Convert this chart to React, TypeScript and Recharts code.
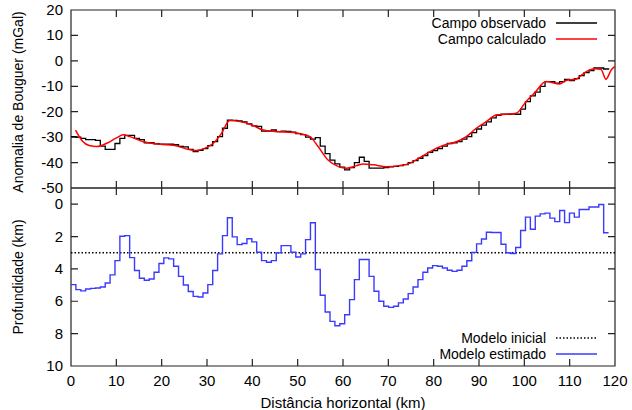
import React from 'react';
import { LineChart, Line, XAxis, YAxis, Legend } from 'recharts';

const FONT = '"Liberation Sans", Arial, Helvetica, sans-serif';
const AXIS = '#222222';
const AXIS_W = 1.2;
const TICK_PX = 7;
const PLOT_W = 544;
const PANEL_H = 178;

// ---- tick labels ----
const xTicks = [0, 10, 20, 30, 40, 50, 60, 70, 80, 90, 100, 110, 120];
const anomalyTicks = [-50, -40, -30, -20, -10, 0, 10, 20];
const depthTicks = [0, 2, 4, 6, 8, 10];

// ---- series names ----
const topNames = ['Campo observado', 'Campo calculado'];
const bottomNames = ['Modelo inicial', 'Modelo estimado'];

// ---- model cell left edges (km) ----
const cellDistance = [
  0, 1.08, 2.16, 3.23, 4.31, 5.39, 6.47, 7.55, 8.62, 9.7,
  10.78, 11.86, 12.94, 14.01, 15.09, 16.17, 17.25, 18.33, 19.4, 20.48,
  21.56, 22.64, 23.72, 24.79, 25.87, 26.95, 28.03, 29.11, 30.18, 31.26,
  32.34, 33.42, 34.5, 35.57, 36.65, 37.73, 38.81, 39.89, 40.96, 42.04,
  43.12, 44.2, 45.28, 46.35, 47.43, 48.51, 49.59, 50.67, 51.74, 52.82,
  53.9, 54.98, 56.06, 57.13, 58.21, 59.29, 60.37, 61.45, 62.52, 63.6,
  64.68, 65.76, 66.84, 67.91, 68.99, 70.07, 71.15, 72.23, 73.3, 74.38,
  75.46, 76.54, 77.62, 78.69, 79.77, 80.85, 81.93, 83.01, 84.08, 85.16,
  86.24, 87.32, 88.4, 89.47, 90.55, 91.63, 92.71, 93.79, 94.86, 95.94,
  97.02, 98.1, 99.18, 100.25, 101.33, 102.41, 103.49, 104.57, 105.64, 106.72,
  107.8, 108.88, 109.96, 111.03, 112.11, 113.19, 114.27, 115.35, 116.42, 117.5,
  118.58,
];

// ---- observed Bouguer anomaly (mGal) ----
const observedField = [
  -29.8, -30.0, -30.5, -31.0, -31.0, -31.3, -33.5, -34.8, -34.8, -32.5,
  -30.5, -29.3, -29.3, -30.5, -31.0, -32.2, -32.2, -32.6, -32.8, -32.8,
  -32.8, -33.0, -33.6, -33.8, -34.8, -35.7, -35.2, -34.5, -33.3, -31.8,
  -29.8, -26.5, -23.3, -23.4, -23.6, -24.0, -24.8, -25.6, -25.8, -27.6,
  -27.6, -27.2, -27.8, -27.6, -27.7, -28.0, -28.6, -29.0, -30.0, -30.8,
  -30.2, -33.5, -36.5, -39.0, -40.5, -41.8, -42.9, -42.0, -40.0, -37.9,
  -39.5, -42.2, -42.2, -42.2, -42.0, -41.7, -41.5, -41.2, -40.8, -40.0,
  -39.2, -38.3, -37.3, -36.0, -35.3, -34.5, -33.5, -32.5, -32.2, -31.8,
  -30.8, -29.8, -28.2, -26.8, -25.3, -24.0, -22.4, -21.4, -21.0, -21.0,
  -20.9, -21.0, -19.0, -16.0, -13.8, -12.3, -10.0, -8.2, -8.2, -8.8,
  -8.2, -7.3, -7.8, -7.0, -5.8, -4.6, -3.8, -2.8, -2.8, -3.2,
  -3.5,
];

// ---- calculated anomaly (mGal) ----
const calcDistance = [
  1.0, 2.5, 4.0, 5.7, 8.0, 10.0, 11.5, 13.0, 16.0, 19.7,
  22.6, 26.3, 27.5, 29.2, 31.4, 33.2, 35.0, 37.3, 39.9, 42.4,
  45.3, 49.0, 52.7, 54.5, 56.7, 59.0, 60.8, 63.0, 64.4, 66.7,
  69.6, 72.5, 74.7, 77.3, 79.9, 82.4, 85.0, 87.2, 89.4, 91.6,
  93.8, 96.0, 98.2, 100.4, 102.3, 104.8, 107.8, 109.2, 111.4, 113.3,
  115.5, 116.9, 118.0, 119.2, 120.0,
];
const calculatedField = [
  -27.2, -31.5, -33.3, -33.7, -32.3, -30.3, -29.1, -29.8, -31.8, -32.8,
  -33.2, -35.0, -35.3, -34.6, -32.4, -28.5, -23.5, -23.9, -25.2, -27.2,
  -27.8, -28.2, -29.8, -33.7, -39.0, -41.6, -42.2, -41.2, -40.6, -40.9,
  -41.6, -41.2, -40.3, -37.7, -35.0, -33.1, -31.8, -29.8, -26.5, -23.9,
  -21.3, -21.0, -20.6, -16.0, -12.5, -8.1, -9.1, -7.7, -7.2, -4.6,
  -3.1, -3.3, -7.2, -3.5, -2.2,
];

// ---- estimated depth (km) ----
const estimatedDepth = [
  4.97, 5.28, 5.36, 5.24, 5.2, 5.18, 5.12, 4.87, 4.37, 3.49,
  1.98, 1.94, 3.3, 4.1, 4.58, 4.7, 4.62, 4.21, 3.67, 3.32,
  3.38, 3.84, 4.46, 4.99, 5.4, 5.7, 5.74, 5.49, 4.97, 4.1,
  3.07, 1.94, 0.84, 2.02, 2.5, 2.43, 2.14, 2.33, 2.97, 3.49,
  3.59, 3.49, 3.01, 2.56, 2.56, 2.97, 3.26, 3.07, 2.19, 1.15,
  4.04, 5.63, 6.66, 7.24, 7.51, 7.39, 6.83, 5.9, 4.66, 3.42,
  3.42, 4.46, 5.38, 6.0, 6.31, 6.38, 6.31, 6.1, 5.86, 5.53,
  5.12, 4.66, 4.21, 3.94, 3.8, 3.84, 3.94, 4.08, 4.15, 4.08,
  3.84, 3.5, 2.98, 2.45, 2.15, 1.73, 1.75, 1.75, 2.48, 3.0,
  3.05, 2.68, 1.63, 0.8, 1.55, 0.74, 0.6, 0.55, 0.86, 1.08,
  0.39, 1.14, 0.55, 0.8, 0.33, 0.33, 0.17, 0.17, 0.02, 1.77,
  1.77,
];

// ---- initial model ----
const initialDistance = [0, 120];
const initialDepth = [3, 3];

// ---- axis domains ----
const xDomain: [number, number] = [0, 120];
const anomalyDomain: [number, number] = [-50, 20];
const depthDomain: [number, number] = [-1, 10];

const observedRows = cellDistance.map((x, i) => ({ x, g: observedField[i] }));
const calculatedRows = calcDistance.map((x, i) => ({ x, g: calculatedField[i] }));
const estimatedRows = cellDistance.map((x, i) => ({ x, d: estimatedDepth[i] }));
const initialRows = initialDistance.map((x, i) => ({ x, d: initialDepth[i] }));

// ---- frame + inward tick marks, built from the axis domains and ticks ----
function frameRows(yDom: [number, number], yTicks: number[]) {
  const [x0, x1] = xDomain;
  const [y0, y1] = yDom;
  const dx = (TICK_PX * (x1 - x0)) / PLOT_W;
  const dy = (TICK_PX * (y1 - y0)) / PANEL_H;
  const rows: { x: number; v: number | null }[] = [];
  rows.push(
    { x: x0, v: y0 }, { x: x0, v: y1 }, { x: x1, v: y1 }, { x: x1, v: y0 }, { x: x0, v: y0 }, { x: x0, v: null }
  );
  xTicks.forEach((t) => {
    rows.push({ x: t, v: y0 }, { x: t, v: y0 + dy }, { x: t, v: null });
    rows.push({ x: t, v: y1 }, { x: t, v: y1 - dy }, { x: t, v: null });
  });
  yTicks.forEach((t) => {
    rows.push({ x: x0, v: t }, { x: x0 + dx, v: t }, { x: x0 + dx, v: null });
    rows.push({ x: x1, v: t }, { x: x1 - dx, v: t }, { x: x1 - dx, v: null });
  });
  return rows;
}
const topFrame = frameRows(anomalyDomain, anomalyTicks);
const bottomFrame = frameRows(depthDomain, depthTicks);

// ---- tick labels (text only) ----
const BottomTickLabel = (props: any) => (
  <text x={Number(props.x)} y={Number(props.y) + 20} textAnchor="middle" fontSize={15} fill="#000" fontFamily={FONT}>
    {props.payload.value}
  </text>
);
const LeftTickLabel = (props: any) => (
  <text x={Number(props.x) - 8} y={Number(props.y) + 5} textAnchor="end" fontSize={15} fill="#000" fontFamily={FONT}>
    {props.payload.value}
  </text>
);

const rotatedLabel = (text: string, cy: number) => () => (
  <text
    x={18}
    y={cy}
    transform={`rotate(-90 18 ${cy})`}
    textAnchor="middle"
    dominantBaseline="central"
    fontSize={14}
    fill="#000"
    fontFamily={FONT}
  >
    {text}
  </text>
);

const makeLegend = (order: string[]) => (props: any) => {
  const payload = [...(props.payload || [])]
    .filter((p: any) => order.indexOf(p.value) >= 0)
    .sort((a: any, b: any) => order.indexOf(a.value) - order.indexOf(b.value));
  return (
    <div
      style={{
        display: 'flex',
        flexDirection: 'column',
        alignItems: 'flex-end',
        fontFamily: FONT,
        fontSize: 14,
        lineHeight: '16px',
        color: '#000',
      }}
    >
      {payload.map((p: any, i: number) => (
        <div key={i} style={{ display: 'flex', alignItems: 'center', height: 16 }}>
          <span style={{ whiteSpace: 'nowrap' }}>{p.value}</span>
          <svg width={51} height={16} style={{ display: 'block' }}>
            <line
              x1={10}
              x2={51}
              y1={8}
              y2={8}
              stroke={p.color}
              strokeWidth={p.payload && p.payload.strokeWidth ? p.payload.strokeWidth : 1.4}
              strokeDasharray={p.payload && p.payload.strokeDasharray ? p.payload.strokeDasharray : undefined}
            />
          </svg>
        </div>
      ))}
    </div>
  );
};

const commonX = {
  xAxisId: 'b',
  type: 'number' as const,
  dataKey: 'x',
  domain: xDomain,
  ticks: xTicks,
  interval: 0 as const,
  axisLine: false,
  tickLine: false,
  tickSize: 0,
  tickMargin: 0,
};

const frameLine = (rows: any[]) => (
  <Line
    xAxisId="b"
    yAxisId="l"
    data={rows}
    dataKey="v"
    name="frame"
    type="linear"
    stroke={AXIS}
    strokeWidth={AXIS_W}
    dot={false}
    activeDot={false}
    connectNulls={false}
    legendType="none"
    isAnimationActive={false}
  />
);

export default function App() {
  return (
    <div
      style={{
        position: 'absolute',
        left: 0,
        top: 0,
        width: 632,
        height: 410,
        background: '#fff',
        fontFamily: FONT,
      }}
    >
      <div style={{ position: 'absolute', left: 0, top: 0 }}>
        <LineChart width={632} height={410} margin={{ top: 10, right: 17, bottom: 222, left: 0 }}>
          <XAxis {...commonX} tick={false} height={0} />
          <YAxis
            yAxisId="l"
            type="number"
            domain={anomalyDomain}
            ticks={anomalyTicks}
            interval={0}
            axisLine={false}
            tickLine={false}
            tickSize={0}
            tickMargin={0}
            tick={LeftTickLabel}
            width={71}
            label={{ content: rotatedLabel('Anomalia de Bouguer (mGal)', 102) }}
          />
          {frameLine(topFrame)}
          <Line
            xAxisId="b"
            yAxisId="l"
            data={observedRows}
            dataKey="g"
            name={topNames[0]}
            type="stepAfter"
            stroke="#000000"
            strokeWidth={1.3}
            dot={false}
            activeDot={false}
            isAnimationActive={false}
          />
          <Line
            xAxisId="b"
            yAxisId="l"
            data={calculatedRows}
            dataKey="g"
            name={topNames[1]}
            type="monotone"
            stroke="#ff0000"
            strokeWidth={1.5}
            dot={false}
            activeDot={false}
            isAnimationActive={false}
          />
          <Legend
            layout="horizontal"
            align="center"
            verticalAlign="middle"
            content={makeLegend(topNames)}
            wrapperStyle={{ top: 15, right: 35, width: 'auto' }}
          />
        </LineChart>
      </div>

      <div style={{ position: 'absolute', left: 0, top: 0 }}>
        <LineChart width={632} height={410} margin={{ top: 188, right: 17, bottom: 0, left: 0 }}>
          <XAxis
            {...commonX}
            tick={BottomTickLabel}
            height={44}
            label={{
              value: 'Distância horizontal (km)',
              position: 'insideBottom',
              offset: 2,
              fill: '#000',
              fontSize: 15,
              fontFamily: FONT,
            }}
          />
          <YAxis
            yAxisId="l"
            type="number"
            domain={depthDomain}
            reversed
            ticks={depthTicks}
            interval={0}
            axisLine={false}
            tickLine={false}
            tickSize={0}
            tickMargin={0}
            tick={LeftTickLabel}
            width={71}
            label={{ content: rotatedLabel('Profundidade (km)', 277) }}
          />
          {frameLine(bottomFrame)}
          <Line
            xAxisId="b"
            yAxisId="l"
            data={initialRows}
            dataKey="d"
            name={bottomNames[0]}
            type="linear"
            stroke="#000000"
            strokeWidth={1.5}
            strokeDasharray="1.5 2"
            dot={false}
            activeDot={false}
            isAnimationActive={false}
          />
          <Line
            xAxisId="b"
            yAxisId="l"
            data={estimatedRows}
            dataKey="d"
            name={bottomNames[1]}
            type="stepAfter"
            stroke="#3a3aff"
            strokeWidth={1.4}
            dot={false}
            activeDot={false}
            isAnimationActive={false}
          />
          <Legend
            layout="horizontal"
            align="center"
            verticalAlign="middle"
            content={makeLegend(bottomNames)}
            wrapperStyle={{ top: 330, right: 35, width: 'auto' }}
          />
        </LineChart>
      </div>
    </div>
  );
}
